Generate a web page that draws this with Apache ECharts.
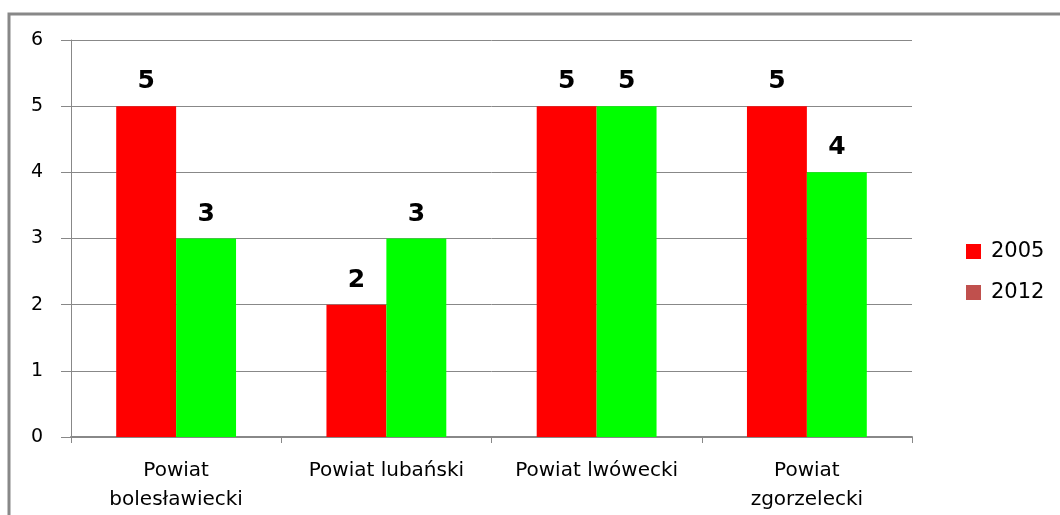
<!DOCTYPE html>
<html><head><meta charset="utf-8">
<script src="https://cdn.jsdelivr.net/npm/echarts@6/dist/echarts.min.js"></script>
<style>html,body{margin:0;padding:0;background:#fff}#c{width:1060px;height:515px}</style>
</head><body><div id="c"></div>
<script>
const categories = ['Powiat\nbolesławiecki', 'Powiat lubański', 'Powiat lwówecki', 'Powiat\nzgorzelecki'];
const values2005 = [5, 2, 5, 5];
const values2012 = [3, 3, 5, 4];
const yTicks = [0, 1, 2, 3, 4, 5, 6];
const seriesNames = ['2005', '2012'];

const chart = echarts.init(document.getElementById('c'));
const font = 'DejaVu Sans, sans-serif';
chart.setOption({
  animation: false,
  graphic: [{
    type: 'rect', shape: {x: 9, y: 14, width: 1100, height: 600},
    style: {fill: 'none', stroke: '#888', lineWidth: 3}, silent: true
  }],
  grid: {left: 71, right: 148, top: 40, bottom: 78, containLabel: false},
  legend: {
    orient: 'vertical', left: 961, top: 236, itemGap: 20,
    itemWidth: 15, itemHeight: 15, icon: 'rect',
    textStyle: {fontFamily: font, fontSize: 21, color: '#000', padding: [0, 0, 0, 5]},
    data: [
      {name: seriesNames[0], itemStyle: {color: '#FF0000'}},
      {name: seriesNames[1], itemStyle: {color: '#C0504D'}}
    ]
  },
  xAxis: {
    type: 'category', data: categories,
    axisLine: {lineStyle: {color: '#888', width: 2}},
    axisTick: {show: true, length: 6, lineStyle: {color: '#888'}},
    axisLabel: {fontFamily: font, fontSize: 20, color: '#000', margin: 19, lineHeight: 29, interval: 0}
  },
  yAxis: {
    type: 'value', min: 0, max: 6, interval: 1,
    axisLine: {show: true, lineStyle: {color: '#888', width: 1}},
    axisTick: {show: true, length: 10, lineStyle: {color: '#888'}},
    splitLine: {lineStyle: {color: '#888', width: 1}},
    axisLabel: {fontFamily: font, fontSize: 19, color: '#000', margin: 28,
      formatter: v => yTicks.includes(v) ? String(v) : ''}
  },
  series: [
    {name: seriesNames[0], type: 'bar', data: values2005, barGap: '0%', barCategoryGap: '43%',
     itemStyle: {color: '#FF0000'},
     label: {show: true, position: 'top', distance: 12, fontFamily: font, fontSize: 25, fontWeight: 'bold', color: '#000'}},
    {name: seriesNames[1], type: 'bar', data: values2012, barGap: '0%', barCategoryGap: '43%',
     itemStyle: {color: '#00FF00'},
     label: {show: true, position: 'top', distance: 12, fontFamily: font, fontSize: 25, fontWeight: 'bold', color: '#000'}}
  ]
});
</script></body></html>
